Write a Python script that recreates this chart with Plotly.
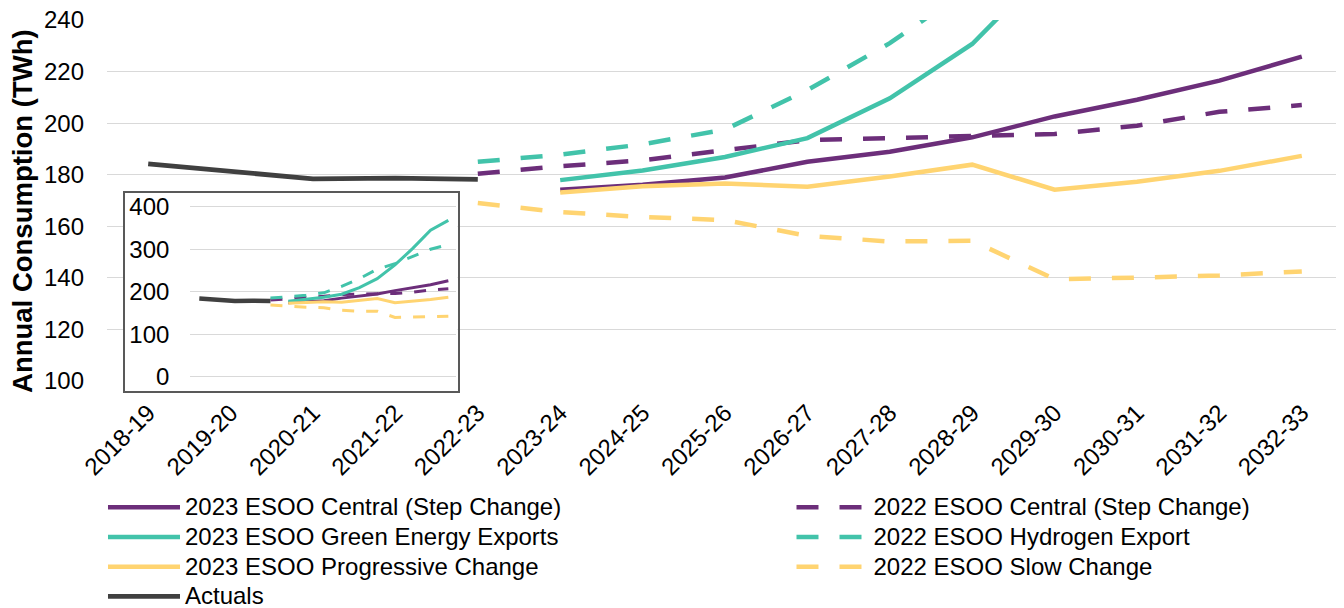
"""Annual consumption forecast: 2023 ESOO scenarios vs 2022 ESOO, with inset."""
import plotly.graph_objects as go

# ── Data ───────────────────────────────────────────────────────────────────────

YEARS = [
    "2018-19", "2019-20", "2020-21", "2021-22", "2022-23", "2023-24", "2024-25",
    "2025-26", "2026-27", "2027-28", "2028-29", "2029-30", "2030-31", "2031-32",
    "2032-33",
]
N = None

ACTUALS = [184.2, 181.3, 178.4, 178.7, 178.2, N, N, N, N, N, N, N, N, N, N]

CENTRAL_2023 = [N, N, N, N, N, 174.2, 176.1, 178.9, 185.0, 188.9, 194.5,
                202.6, 209.1, 216.5, 225.8]
CENTRAL_2022 = [N, N, N, N, 180.4, 183.3, 185.6, 189.4, 193.4, 194.2, 194.9,
                195.8, 199.0, 204.4, 207.0]
GREEN_2023 = [N, N, N, N, N, 177.9, 181.6, 186.9, 194.2, 209.6, 230.7,
              263.0, 302.0, 345.0, 368.0]
HYDROGEN_2022 = [N, N, N, N, 185.0, 187.8, 191.8, 197.5, 212.8, 231.0, 253.0,
                 266.0, 283.0, 300.0, 311.0]
PROGRESSIVE_2023 = [N, N, N, N, N, 173.1, 175.5, 176.6, 175.3, 179.3, 183.9,
                    174.2, 177.3, 181.5, 187.3]
SLOW_2022 = [N, N, N, N, 169.0, 165.5, 163.6, 162.4, 156.3, 154.1, 154.4,
             139.5, 140.1, 140.9, 142.5]

# ── Style ──────────────────────────────────────────────────────────────────────

PURPLE = "#6C2E7A"
TEAL = "#42C3AA"
YELLOW = "#FFD471"
DARK = "#404040"
GRID = "#D9D9D9"
FONT = "Liberation Sans, Arial, sans-serif"

# (name, values, colour, dashed, legend)
SERIES = [
    ("2023 ESOO Central (Step Change)", CENTRAL_2023, PURPLE, False, "legend"),
    ("2022 ESOO Central (Step Change)", CENTRAL_2022, PURPLE, True, "legend2"),
    ("2023 ESOO Green Energy Exports", GREEN_2023, TEAL, False, "legend"),
    ("2022 ESOO Hydrogen Export", HYDROGEN_2022, TEAL, True, "legend2"),
    ("2023 ESOO Progressive Change", PROGRESSIVE_2023, YELLOW, False, "legend"),
    ("2022 ESOO Slow Change", SLOW_2022, YELLOW, True, "legend2"),
    ("Actuals", ACTUALS, DARK, False, "legend"),
]


def _label(text: str) -> str:
    # legend rows are spaced from legend.font.size; the text itself is larger
    return f"<span style='font-size:24px'>{text}</span>"


fig = go.Figure()

for name, vals, color, dashed, legend in SERIES:
    is_actual = name == "Actuals"
    fig.add_trace(go.Scatter(
        x=YEARS, y=vals, mode="lines",
        name=_label(name), legend=legend,
        line=dict(color=color, width=4.8 if is_actual else 4.5,
                  dash="22px,21px" if dashed else "solid"),
        xaxis="x", yaxis="y",
        hoverinfo="skip",
    ))

# empty trace so the inset frame subplot (x2/y2) gets drawn
fig.add_trace(go.Scatter(x=[], y=[], xaxis="x2", yaxis="y2",
                         showlegend=False, hoverinfo="skip"))

# inset: same series on a 0–400 scale
for name, vals, color, dashed, legend in SERIES:
    is_actual = name == "Actuals"
    fig.add_trace(go.Scatter(
        x=YEARS, y=vals, mode="lines",
        showlegend=False,
        line=dict(color=color, width=4.5 if is_actual else 3,
                  dash="12px,12px" if dashed else "solid"),
        xaxis="x3", yaxis="y3",
        hoverinfo="skip",
    ))

no_axis = dict(showgrid=False, zeroline=False, showticklabels=False, ticks="",
               showline=True, mirror=True, linecolor="#595959", linewidth=1.5,
               range=[0, 1], fixedrange=True)

# the page body adds an 8px margin, so the figure is 8px smaller each way
fig.update_layout(
    width=1336, height=600,
    margin=dict(l=99, r=1, t=12, b=213, autoexpand=False),
    plot_bgcolor="white", paper_bgcolor="white",
    font=dict(family=FONT, size=24, color="black"),
    xaxis=dict(
        domain=[0, 1], anchor="y", type="category",
        categoryorder="array", categoryarray=YEARS,
        range=[-0.5, 14.5], showgrid=False, zeroline=False, ticks="",
        tickangle=-45, ticklabelstandoff=12, automargin=False,
    ),
    yaxis=dict(
        domain=[0.03733, 1], anchor="x", range=[100, 240], dtick=20,
        gridcolor=GRID, gridwidth=1.3, zeroline=False, ticks="",
        ticklabelstandoff=22, ticklabeloverflow="allow", automargin=False,
    ),
    # inset frame (blank subplot that hides the main gridlines behind it)
    xaxis2=dict(domain=[0.01456, 0.28358], anchor="y2", **no_axis),
    yaxis2=dict(domain=[0.01067, 0.53947], anchor="x2", **no_axis),
    xaxis3=dict(
        domain=[0.06748, 0.28236], anchor="y3", type="category",
        categoryorder="array", categoryarray=YEARS,
        range=[-0.5, 14.43], showgrid=False, zeroline=False,
        showticklabels=False, ticks="",
    ),
    yaxis3=dict(
        domain=[0.01467, 0.536], anchor="x3", range=[-30, 430],
        tick0=0, dtick=100, gridcolor=GRID, gridwidth=1.3, zeroline=False,
        ticks="", ticklabelstandoff=20, ticklabeloverflow="allow",
        automargin=False,
    ),
    legend=dict(
        x=-0.00324, y=-0.2467, xanchor="left", yanchor="top",
        itemwidth=72, font=dict(size=20.5), bgcolor="rgba(0,0,0,0)",
    ),
    legend2=dict(
        x=0.5538, y=-0.2467, xanchor="left", yanchor="top",
        itemwidth=72, font=dict(size=20.5), bgcolor="rgba(0,0,0,0)",
    ),
    annotations=[dict(
        text="<b>Annual Consumption (TWh)</b>", textangle=-90,
        xref="paper", yref="paper", x=-0.0680, y=0.4907,
        xanchor="center", yanchor="middle", showarrow=False,
        font=dict(size=27.5),
    )],
)

fig.write_html("out.html")
